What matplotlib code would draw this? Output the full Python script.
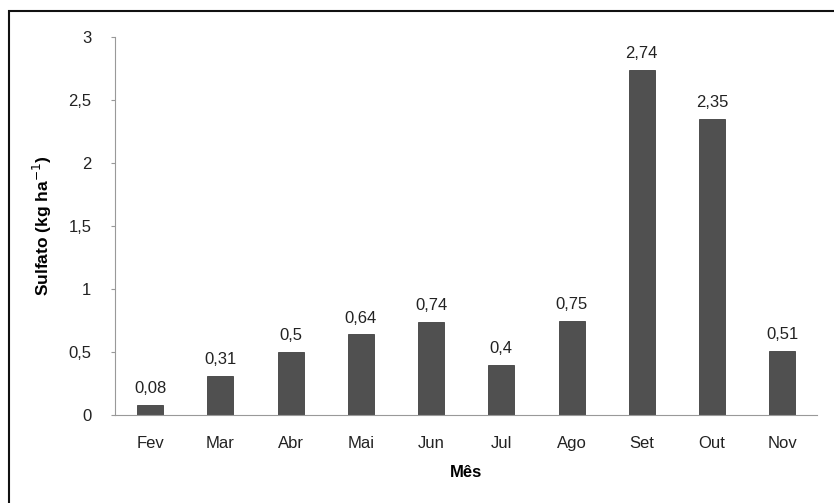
import matplotlib.pyplot as plt
from matplotlib.patches import Rectangle
from matplotlib.ticker import FuncFormatter

meses = ['Fev', 'Mar', 'Abr', 'Mai', 'Jun', 'Jul', 'Ago', 'Set', 'Out', 'Nov']
sulfato = [0.08, 0.31, 0.5, 0.64, 0.74, 0.4, 0.75, 2.74, 2.35, 0.51]
y_ticks = [0, 0.5, 1, 1.5, 2, 2.5, 3]

plt.rcParams['font.family'] = ['Liberation Sans', 'DejaVu Sans']


def virgula(v, pos=None):
    s = f'{v:g}'
    return s.replace('.', ',')


fig = plt.figure(figsize=(8.34, 5.03), dpi=100)
ax = fig.add_axes([0.138, 0.175, 0.842, 0.751])

x = range(len(meses))
ax.bar(x, sulfato, width=0.37, color='#505050', edgecolor='#404040', linewidth=0.6)
for i, v in enumerate(sulfato):
    ax.text(i, v + 0.07, virgula(v), ha='center', va='bottom', fontsize=12, color='#222222')

ax.set_xlim(-0.5, len(meses) - 0.5)
ax.set_ylim(0, 3)
ax.set_yticks(y_ticks)
ax.yaxis.set_major_formatter(FuncFormatter(virgula))
ax.set_xticks(list(x))
ax.set_xticklabels(meses)
ax.tick_params(axis='y', length=3, color='#999999', labelsize=12, pad=14, labelcolor='#222222')
ax.tick_params(axis='x', length=0, labelsize=12, pad=15, labelcolor='#222222')
for side in ['top', 'right']:
    ax.spines[side].set_visible(False)
for side in ['left', 'bottom']:
    ax.spines[side].set_color('#999999')
    ax.spines[side].set_linewidth(0.8)

ax.set_ylabel('Sulfato (kg ha$^{-1}$)', fontsize=12.5, fontweight='bold', labelpad=10)
ax.set_xlabel('Mês', fontsize=12, fontweight='bold', labelpad=10)

# moldura externa
fig.patches.append(Rectangle((9 / 834, -0.01), 830 / 834, 1.01 - 11 / 503, transform=fig.transFigure,
                             fill=False, edgecolor='#111111', linewidth=1.5))

fig.savefig('out.png', dpi=100)
